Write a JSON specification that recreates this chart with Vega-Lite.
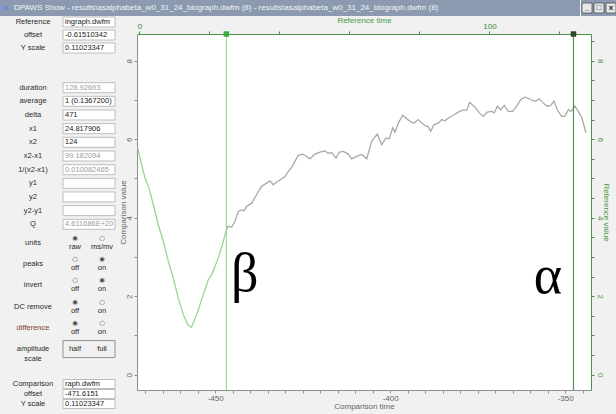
{
  "$schema": "https://vega.github.io/schema/vega-lite/v6.json",
  "description": "DPAWS Show: comparison and reference waveform with cursors x1 and x2, next to the measurement panel.",
  "background": "#f1f1f1",
  "padding": 0,
  "config": {
    "font": "Liberation Sans",
    "view": {"stroke": null},
    "title": {"fontWeight": "normal"},
    "axis": {
      "labelFont": "Liberation Sans",
      "titleFont": "Liberation Sans",
      "labelFontSize": 8,
      "titleFontSize": 8,
      "titleFontWeight": "normal",
      "grid": false,
      "tickSize": 3,
      "labelPadding": 1,
      "labelFlush": false,
      "labelOverlap": false,
      "domainWidth": 1,
      "tickWidth": 1
    },
    "text": {"font": "Liberation Sans", "fontSize": 7.5, "color": "#2a2a2a"}
  },
  "datasets": {
    "window_icon": [{"icon": "■"}],
    "window_buttons": [
      {"button": "minimize", "glyph": "_"},
      {"button": "maximize", "glyph": "□"},
      {"button": "close", "glyph": "x"}
    ],
    "reference_form": [
      {"field": "Reference", "value": "ingraph.dwfm", "enabled": true},
      {"field": "offset", "value": "-0.61510342", "enabled": true},
      {"field": "Y scale", "value": "0.11023347", "enabled": true}
    ],
    "measure_form": [
      {"field": "duration", "value": "128.92693", "enabled": false},
      {"field": "average", "value": "1 (0.1367200)", "enabled": true},
      {"field": "delta", "value": "471", "enabled": true},
      {"field": "x1", "value": "24.817906", "enabled": true},
      {"field": "x2", "value": "124", "enabled": true},
      {"field": "x2-x1", "value": "99.182094", "enabled": false},
      {"field": "1/(x2-x1)", "value": "0.010082465", "enabled": false},
      {"field": "y1", "value": "", "enabled": true},
      {"field": "y2", "value": "", "enabled": true},
      {"field": "y2-y1", "value": "", "enabled": true},
      {"field": "Q", "value": "4.611686E+20", "enabled": false}
    ],
    "option_form": [
      {"field": "units", "kind": "radio", "opt1": "raw", "opt2": "ms/mv", "selected": 1},
      {"field": "peaks", "kind": "radio", "opt1": "off", "opt2": "on", "selected": 2},
      {"field": "invert", "kind": "radio", "opt1": "off", "opt2": "on", "selected": 2},
      {"field": "DC remove", "kind": "radio", "opt1": "off", "opt2": "on", "selected": 1},
      {"field": "difference", "kind": "radio", "opt1": "off", "opt2": "on", "selected": 1},
      {"field": "amplitude\nscale", "kind": "button", "opt1": "half", "opt2": "full", "selected": 0}
    ],
    "comparison_form": [
      {"field": "Comparison", "value": "raph.dwfm", "enabled": true},
      {"field": "offset", "value": "-471.6151", "enabled": true},
      {"field": "Y scale", "value": "0.11023347", "enabled": true}
    ],
    "cursors": [
      {"cursor": "x1", "ref_time": 24.817906, "comp_time": -446.797194},
      {"cursor": "x2", "ref_time": 124, "comp_time": -347.6151}
    ],
    "annotations": [
      {"symbol": "β", "ref_time": 30.1, "value": 2.13},
      {"symbol": "α", "ref_time": 116.7, "value": 2.08}
    ],
    "waveform": [
      {"trace": "before x1", "ref_time": -0.5, "value": 5.79},
      {"trace": "before x1", "ref_time": 0.14, "value": 5.52},
      {"trace": "before x1", "ref_time": 1.57, "value": 5.01},
      {"trace": "before x1", "ref_time": 2.71, "value": 4.76},
      {"trace": "before x1", "ref_time": 3.94, "value": 4.33},
      {"trace": "before x1", "ref_time": 5.37, "value": 3.82},
      {"trace": "before x1", "ref_time": 6.8, "value": 3.4},
      {"trace": "before x1", "ref_time": 8.23, "value": 2.89},
      {"trace": "before x1", "ref_time": 9.66, "value": 2.46},
      {"trace": "before x1", "ref_time": 11.09, "value": 1.95},
      {"trace": "before x1", "ref_time": 12.51, "value": 1.53},
      {"trace": "before x1", "ref_time": 13.77, "value": 1.27},
      {"trace": "before x1", "ref_time": 14.86, "value": 1.21},
      {"trace": "before x1", "ref_time": 16.34, "value": 1.53},
      {"trace": "before x1", "ref_time": 18.23, "value": 2.04},
      {"trace": "before x1", "ref_time": 19.66, "value": 2.42},
      {"trace": "before x1", "ref_time": 20.63, "value": 2.55},
      {"trace": "before x1", "ref_time": 22.51, "value": 2.97},
      {"trace": "before x1", "ref_time": 23.66, "value": 3.31},
      {"trace": "before x1", "ref_time": 24.8, "value": 3.68},
      {"trace": "after x1", "ref_time": 24.8, "value": 3.68},
      {"trace": "after x1", "ref_time": 25.29, "value": 3.78},
      {"trace": "after x1", "ref_time": 26.34, "value": 3.76},
      {"trace": "after x1", "ref_time": 27.29, "value": 3.91},
      {"trace": "after x1", "ref_time": 28.23, "value": 4.16},
      {"trace": "after x1", "ref_time": 29.2, "value": 4.2},
      {"trace": "after x1", "ref_time": 29.86, "value": 4.18},
      {"trace": "after x1", "ref_time": 30.63, "value": 4.29},
      {"trace": "after x1", "ref_time": 32.06, "value": 4.37},
      {"trace": "after x1", "ref_time": 33.49, "value": 4.59},
      {"trace": "after x1", "ref_time": 34.91, "value": 4.8},
      {"trace": "after x1", "ref_time": 36.34, "value": 4.88},
      {"trace": "after x1", "ref_time": 37.29, "value": 4.94},
      {"trace": "after x1", "ref_time": 38.23, "value": 4.84},
      {"trace": "after x1", "ref_time": 39.2, "value": 4.91},
      {"trace": "after x1", "ref_time": 40.63, "value": 4.99},
      {"trace": "after x1", "ref_time": 41.57, "value": 5.05},
      {"trace": "after x1", "ref_time": 42.51, "value": 5.18},
      {"trace": "after x1", "ref_time": 43.49, "value": 5.28},
      {"trace": "after x1", "ref_time": 44.43, "value": 5.44},
      {"trace": "after x1", "ref_time": 45.37, "value": 5.59},
      {"trace": "after x1", "ref_time": 46.63, "value": 5.62},
      {"trace": "after x1", "ref_time": 47.77, "value": 5.56},
      {"trace": "after x1", "ref_time": 48.71, "value": 5.5},
      {"trace": "after x1", "ref_time": 50.14, "value": 5.62},
      {"trace": "after x1", "ref_time": 51.57, "value": 5.67},
      {"trace": "after x1", "ref_time": 53.0, "value": 5.7},
      {"trace": "after x1", "ref_time": 53.94, "value": 5.64},
      {"trace": "after x1", "ref_time": 54.91, "value": 5.66},
      {"trace": "after x1", "ref_time": 56.14, "value": 5.52},
      {"trace": "after x1", "ref_time": 57.09, "value": 5.67},
      {"trace": "after x1", "ref_time": 58.23, "value": 5.69},
      {"trace": "after x1", "ref_time": 59.66, "value": 5.62},
      {"trace": "after x1", "ref_time": 60.63, "value": 5.5},
      {"trace": "after x1", "ref_time": 62.06, "value": 5.56},
      {"trace": "after x1", "ref_time": 63.49, "value": 5.61},
      {"trace": "after x1", "ref_time": 64.91, "value": 5.5},
      {"trace": "after x1", "ref_time": 66.34, "value": 5.95},
      {"trace": "after x1", "ref_time": 67.94, "value": 6.13},
      {"trace": "after x1", "ref_time": 69.2, "value": 5.86},
      {"trace": "after x1", "ref_time": 70.43, "value": 6.03},
      {"trace": "after x1", "ref_time": 71.37, "value": 6.01},
      {"trace": "after x1", "ref_time": 72.34, "value": 6.29},
      {"trace": "after x1", "ref_time": 73.0, "value": 6.18},
      {"trace": "after x1", "ref_time": 73.94, "value": 6.41},
      {"trace": "after x1", "ref_time": 75.2, "value": 6.61},
      {"trace": "after x1", "ref_time": 76.34, "value": 6.52},
      {"trace": "after x1", "ref_time": 77.77, "value": 6.43},
      {"trace": "after x1", "ref_time": 78.43, "value": 6.41},
      {"trace": "after x1", "ref_time": 79.66, "value": 6.5},
      {"trace": "after x1", "ref_time": 80.63, "value": 6.41},
      {"trace": "after x1", "ref_time": 81.86, "value": 6.33},
      {"trace": "after x1", "ref_time": 82.51, "value": 6.32},
      {"trace": "after x1", "ref_time": 83.2, "value": 6.2},
      {"trace": "after x1", "ref_time": 84.14, "value": 6.37},
      {"trace": "after x1", "ref_time": 85.37, "value": 6.41},
      {"trace": "after x1", "ref_time": 86.34, "value": 6.5},
      {"trace": "after x1", "ref_time": 87.29, "value": 6.47},
      {"trace": "after x1", "ref_time": 88.51, "value": 6.56},
      {"trace": "after x1", "ref_time": 89.66, "value": 6.61},
      {"trace": "after x1", "ref_time": 91.09, "value": 6.69},
      {"trace": "after x1", "ref_time": 92.34, "value": 6.74},
      {"trace": "after x1", "ref_time": 93.49, "value": 6.74},
      {"trace": "after x1", "ref_time": 94.34, "value": 6.94},
      {"trace": "after x1", "ref_time": 95.86, "value": 6.81},
      {"trace": "after x1", "ref_time": 97.09, "value": 6.67},
      {"trace": "after x1", "ref_time": 98.23, "value": 6.58},
      {"trace": "after x1", "ref_time": 99.37, "value": 6.69},
      {"trace": "after x1", "ref_time": 100.63, "value": 6.71},
      {"trace": "after x1", "ref_time": 101.37, "value": 6.67},
      {"trace": "after x1", "ref_time": 102.23, "value": 6.84},
      {"trace": "after x1", "ref_time": 103.2, "value": 6.75},
      {"trace": "after x1", "ref_time": 104.23, "value": 6.86},
      {"trace": "after x1", "ref_time": 105.37, "value": 6.71},
      {"trace": "after x1", "ref_time": 106.63, "value": 6.71},
      {"trace": "after x1", "ref_time": 107.77, "value": 6.84},
      {"trace": "after x1", "ref_time": 108.91, "value": 7.01},
      {"trace": "after x1", "ref_time": 110.14, "value": 7.07},
      {"trace": "after x1", "ref_time": 111.37, "value": 7.03},
      {"trace": "after x1", "ref_time": 112.34, "value": 6.98},
      {"trace": "after x1", "ref_time": 113.29, "value": 6.97},
      {"trace": "after x1", "ref_time": 114.23, "value": 7.03},
      {"trace": "after x1", "ref_time": 115.37, "value": 6.92},
      {"trace": "after x1", "ref_time": 116.51, "value": 6.84},
      {"trace": "after x1", "ref_time": 117.49, "value": 6.86},
      {"trace": "after x1", "ref_time": 118.43, "value": 6.97},
      {"trace": "after x1", "ref_time": 119.37, "value": 6.75},
      {"trace": "after x1", "ref_time": 120.63, "value": 6.58},
      {"trace": "after x1", "ref_time": 121.57, "value": 6.58},
      {"trace": "after x1", "ref_time": 122.51, "value": 6.75},
      {"trace": "after x1", "ref_time": 123.29, "value": 6.71},
      {"trace": "after x1", "ref_time": 124.43, "value": 6.84},
      {"trace": "after x1", "ref_time": 125.37, "value": 6.71},
      {"trace": "after x1", "ref_time": 126.34, "value": 6.56},
      {"trace": "after x1", "ref_time": 127.57, "value": 6.16}
    ]
  },
  "spacing": 0,
  "vconcat": [
    {
      "spacing": 0,
      "hconcat": [
        {
          "width": 580,
          "height": 16,
          "view": {"fill": "#8b9ab0"},
          "title": {
            "text": "DPAWS Show - results\\asalphabeta_w0_31_24_biograph.dwfm (8) - results\\asalphabeta_w0_31_24_biograph.dwfm (8)",
            "anchor": "start",
            "offset": -12,
            "dx": 14,
            "fontSize": 8,
            "color": "#f2f4f8",
            "font": "Liberation Sans"
          },
          "data": {"name": "window_icon"},
          "mark": {"type": "text", "align": "left", "dx": 3, "fontSize": 8, "color": "#5b8fe0"},
          "encoding": {
            "x": {"field": "icon", "type": "nominal", "axis": null, "scale": {"type": "point", "padding": 0, "align": 0}},
            "text": {"field": "icon", "type": "nominal"}
          }
        },
        {
          "width": 36,
          "height": 16,
          "view": {"fill": "#8b9ab0"},
          "data": {"name": "window_buttons"},
          "encoding": {
            "x": {"field": "button", "type": "nominal", "sort": null, "axis": null,
                  "scale": {"type": "point", "padding": 0.5}}
          },
          "layer": [
            {"mark": {"type": "point", "shape": "square", "size": 100, "filled": true, "fill": "#e4e6ea", "stroke": "#505050", "strokeWidth": 0.8, "opacity": 1}},
            {"mark": {"type": "text", "fontSize": 8, "fontWeight": "bold", "color": "#1e1e1e"},
             "encoding": {"text": {"field": "glyph", "type": "nominal"}}}
          ]
        }
      ]
    },
    {
      "spacing": 3,
      "hconcat": [
        {
          "spacing": 0,
          "bounds": "flush",
          "vconcat": [
            {
              "width": 116,
              "height": 44,
              "data": {"name": "reference_form"},
              "encoding": {
                "y": {"field": "field", "type": "nominal", "sort": null, "axis": null,
                      "scale": {"paddingInner": 0.23, "paddingOuter": 0.307, "align": 0}}
              },
              "layer": [
                {"mark": {"type": "rect", "fill": "white", "stroke": "#a5a5a5", "strokeWidth": 0.7, "yOffset": -17},
                 "encoding": {"x": {"datum": "value", "type": "nominal", "axis": null,
                                    "scale": {"domain": ["label", "value"], "paddingInner": 0.0714, "paddingOuter": 0.0714, "align": 0.875}}}},
                {"mark": {"type": "text", "align": "center", "yOffset": -17},
                 "encoding": {"x": {"datum": "label", "type": "nominal", "axis": null,
                                    "scale": {"domain": ["label", "value"], "paddingInner": 0.0714, "paddingOuter": 0.0714, "align": 0.875}},
                              "text": {"field": "field", "type": "nominal"}}},
                {"mark": {"type": "text", "align": "left", "dx": -24, "yOffset": -17},
                 "encoding": {"x": {"datum": "value", "type": "nominal", "axis": null,
                                    "scale": {"domain": ["label", "value"], "paddingInner": 0.0714, "paddingOuter": 0.0714, "align": 0.875}},
                              "text": {"field": "value", "type": "nominal"},
                              "color": {"condition": {"test": "datum.enabled === false", "value": "#9b9b9b"}, "value": "#1a1a1a"}}}
              ]
            },
            {
              "width": 116,
              "height": 172,
              "data": {"name": "measure_form"},
              "encoding": {
                "y": {"field": "field", "type": "nominal", "sort": null, "axis": null,
                      "scale": {"paddingInner": 0.27, "paddingOuter": 0.93, "align": 0.854}}
              },
              "layer": [
                {"mark": {"type": "rect", "fill": "white", "stroke": "#a5a5a5", "strokeWidth": 0.7, "yOffset": -17},
                 "encoding": {"x": {"datum": "value", "type": "nominal", "axis": null,
                                    "scale": {"domain": ["label", "value"], "paddingInner": 0.0714, "paddingOuter": 0.0714, "align": 0.875}}}},
                {"mark": {"type": "text", "align": "center", "yOffset": -17},
                 "encoding": {"x": {"datum": "label", "type": "nominal", "axis": null,
                                    "scale": {"domain": ["label", "value"], "paddingInner": 0.0714, "paddingOuter": 0.0714, "align": 0.875}},
                              "text": {"field": "field", "type": "nominal"}}},
                {"mark": {"type": "text", "align": "left", "dx": -24, "yOffset": -17},
                 "encoding": {"x": {"datum": "value", "type": "nominal", "axis": null,
                                    "scale": {"domain": ["label", "value"], "paddingInner": 0.0714, "paddingOuter": 0.0714, "align": 0.875}},
                              "text": {"field": "value", "type": "nominal"},
                              "color": {"condition": {"test": "datum.enabled === false", "value": "#9b9b9b"}, "value": "#1a1a1a"}}}
              ]
            },
            {
              "width": 116,
              "height": 140,
              "data": {"name": "option_form"},
              "encoding": {
                "y": {"field": "field", "type": "nominal", "sort": null, "axis": null,
                      "scale": {"paddingInner": 0.2, "paddingOuter": 0.39, "align": 0.072}}
              },
              "layer": [
                {"mark": {"type": "text", "align": "center", "lineBreak": "\n", "yOffset": -17},
                 "encoding": {"x": {"datum": "label", "type": "nominal", "axis": null,
                                    "scale": {"domain": ["label", "value"], "paddingInner": 0.0714, "paddingOuter": 0.0714, "align": 0.875}},
                              "text": {"field": "field", "type": "nominal"},
                              "color": {"condition": {"test": "datum.field === 'difference'", "value": "#7d3b34"}, "value": "#2a2a2a"}}},
                {"transform": [{"filter": "datum.kind === 'button'"}],
                 "mark": {"type": "rect", "fill": "#f0f0f0", "stroke": "#7a7a7a", "strokeWidth": 0.8, "yOffset": -17},
                 "encoding": {"x": {"datum": "value", "type": "nominal", "axis": null,
                                    "scale": {"domain": ["label", "value"], "paddingInner": 0.0714, "paddingOuter": 0.0714, "align": 0.875}}}},
                {"transform": [{"filter": "datum.kind === 'radio'"}],
                 "mark": {"type": "text", "font": "DejaVu Sans", "fontSize": 6.5, "dx": -14, "dy": -5, "yOffset": -17, "color": "#444"},
                 "encoding": {"x": {"datum": "value", "type": "nominal", "axis": null,
                                    "scale": {"domain": ["label", "value"], "paddingInner": 0.0714, "paddingOuter": 0.0714, "align": 0.875}},
                              "text": {"condition": {"test": "datum.selected === 1", "value": "◉"}, "value": "○"}}},
                {"transform": [{"filter": "datum.kind === 'radio'"}],
                 "mark": {"type": "text", "font": "DejaVu Sans", "fontSize": 6.5, "dx": 13, "dy": -5, "yOffset": -17, "color": "#444"},
                 "encoding": {"x": {"datum": "value", "type": "nominal", "axis": null,
                                    "scale": {"domain": ["label", "value"], "paddingInner": 0.0714, "paddingOuter": 0.0714, "align": 0.875}},
                              "text": {"condition": {"test": "datum.selected === 2", "value": "◉"}, "value": "○"}}},
                {"transform": [{"filter": "datum.kind === 'radio'"}],
                 "mark": {"type": "text", "dx": -14, "dy": 4, "yOffset": -17},
                 "encoding": {"x": {"datum": "value", "type": "nominal", "axis": null,
                                    "scale": {"domain": ["label", "value"], "paddingInner": 0.0714, "paddingOuter": 0.0714, "align": 0.875}},
                              "text": {"field": "opt1", "type": "nominal"}}},
                {"transform": [{"filter": "datum.kind === 'radio'"}],
                 "mark": {"type": "text", "dx": 13, "dy": 4, "yOffset": -17},
                 "encoding": {"x": {"datum": "value", "type": "nominal", "axis": null,
                                    "scale": {"domain": ["label", "value"], "paddingInner": 0.0714, "paddingOuter": 0.0714, "align": 0.875}},
                              "text": {"field": "opt2", "type": "nominal"}}},
                {"transform": [{"filter": "datum.kind === 'button'"}],
                 "mark": {"type": "text", "dx": -14, "yOffset": -17},
                 "encoding": {"x": {"datum": "value", "type": "nominal", "axis": null,
                                    "scale": {"domain": ["label", "value"], "paddingInner": 0.0714, "paddingOuter": 0.0714, "align": 0.875}},
                              "text": {"field": "opt1", "type": "nominal"}}},
                {"transform": [{"filter": "datum.kind === 'button'"}],
                 "mark": {"type": "text", "dx": 13, "yOffset": -17},
                 "encoding": {"x": {"datum": "value", "type": "nominal", "axis": null,
                                    "scale": {"domain": ["label", "value"], "paddingInner": 0.0714, "paddingOuter": 0.0714, "align": 0.875}},
                              "text": {"field": "opt2", "type": "nominal"}}}
              ]
            },
            {
              "width": 116,
              "height": 42,
              "data": {"name": "comparison_form"},
              "encoding": {
                "y": {"field": "field", "type": "nominal", "sort": null, "axis": null,
                      "scale": {"paddingInner": 0.1, "paddingOuter": 0.65, "align": 0.5}}
              },
              "layer": [
                {"mark": {"type": "rect", "fill": "white", "stroke": "#a5a5a5", "strokeWidth": 0.7, "yOffset": -17},
                 "encoding": {"x": {"datum": "value", "type": "nominal", "axis": null,
                                    "scale": {"domain": ["label", "value"], "paddingInner": 0.0714, "paddingOuter": 0.0714, "align": 0.875}}}},
                {"mark": {"type": "text", "align": "center", "yOffset": -17},
                 "encoding": {"x": {"datum": "label", "type": "nominal", "axis": null,
                                    "scale": {"domain": ["label", "value"], "paddingInner": 0.0714, "paddingOuter": 0.0714, "align": 0.875}},
                              "text": {"field": "field", "type": "nominal"}}},
                {"mark": {"type": "text", "align": "left", "dx": -24, "yOffset": -17},
                 "encoding": {"x": {"datum": "value", "type": "nominal", "axis": null,
                                    "scale": {"domain": ["label", "value"], "paddingInner": 0.0714, "paddingOuter": 0.0714, "align": 0.875}},
                              "text": {"field": "value", "type": "nominal"},
                              "color": {"condition": {"test": "datum.enabled === false", "value": "#9b9b9b"}, "value": "#1a1a1a"}}}
              ]
            }
          ]
        },
        {
          "width": 454,
          "height": 356,
          "view": {"fill": "white"},
          "resolve": {"scale": {"x": "independent", "y": "independent"}},
          "layer": [
            {
              "layer": [
                {
                  "data": {"name": "waveform"},
                  "mark": {"type": "line", "strokeWidth": 1.3},
                  "encoding": {
                    "x": {"field": "ref_time", "type": "quantitative", "title": "Reference time",
                          "scale": {"domain": [-0.714, 129], "nice": false, "zero": false},
                          "axis": {"orient": "top", "title": "Reference time",
                                   "values": [0, 5, 10, 15, 20, 25, 30, 35, 40, 45, 50, 55, 60, 65, 70, 75, 80, 85, 90, 95, 100, 105, 110, 115, 120, 125],
                                   "labelExpr": "datum.value % 50 === 0 ? '' + datum.value : ''",
                                   "domainColor": "#4b8f4b", "tickColor": "#4b8f4b", "labelColor": "#3f8a3f", "titleColor": "#3f9a3f",
                                   "titlePadding": -2}},
                    "y": {"field": "value", "type": "quantitative", "title": "Comparison value",
                          "scale": {"domain": [-0.39, 8.68], "nice": false, "zero": false},
                          "axis": {"orient": "left", "title": "Comparison value",
                                   "values": [0, 0.5, 1, 1.5, 2, 2.5, 3, 3.5, 4, 4.5, 5, 5.5, 6, 6.5, 7, 7.5, 8, 8.5],
                                   "labelExpr": "datum.value % 2 === 0 ? '' + datum.value : ''",
                                   "labelAngle": -90,
                                   "domainColor": "#8e8e8e", "tickColor": "#8e8e8e", "labelColor": "#666666", "titleColor": "#666666",
                                   "titlePadding": -2}},
                    "color": {"field": "trace", "type": "nominal",
                              "scale": {"domain": ["before x1", "after x1"], "range": ["#9dd396", "#a4aca0"]},
                              "legend": null}
                  }
                },
                {
                  "data": {"name": "annotations"},
                  "mark": {"type": "text", "font": "Liberation Serif", "fontSize": 54, "baseline": "alphabetic", "align": "center", "color": "#000000"},
                  "encoding": {
                    "x": {"field": "ref_time", "type": "quantitative", "title": "Reference time",
                          "scale": {"domain": [-0.714, 129], "nice": false, "zero": false}},
                    "y": {"field": "value", "type": "quantitative", "title": "Comparison value",
                          "scale": {"domain": [-0.39, 8.68], "nice": false, "zero": false}},
                    "text": {"field": "symbol", "type": "nominal"}
                  }
                }
              ]
            },
            {
              "data": {"name": "cursors"},
              "mark": {"type": "rule", "strokeWidth": 1.2},
              "encoding": {
                "x": {"field": "comp_time", "type": "quantitative", "title": "Comparison time",
                      "scale": {"domain": [-472.329, -342.615], "nice": false, "zero": false},
                      "axis": {"orient": "bottom", "title": "Comparison time",
                               "values": [-470, -465, -460, -455, -450, -445, -440, -435, -430, -425, -420, -415, -410, -405, -400, -395, -390, -385, -380, -375, -370, -365, -360, -355, -350, -345],
                               "labelExpr": "datum.value % 50 === 0 ? '-' + abs(datum.value) : ''",
                               "domainColor": "#8e8e8e", "tickColor": "#8e8e8e", "labelColor": "#666666", "titleColor": "#666666",
                               "titlePadding": 0}},
                "color": {"condition": {"test": "datum.cursor === 'x1'", "value": "#a3d99c"}, "value": "#5e8a5e"}
              }
            },
            {
              "data": {"name": "cursors"},
              "mark": {"type": "point", "shape": "square", "filled": true, "size": 30, "opacity": 1},
              "encoding": {
                "x": {"field": "ref_time", "type": "quantitative",
                      "scale": {"domain": [-0.714, 129], "nice": false, "zero": false}, "axis": null},
                "y": {"datum": 8.68, "type": "quantitative",
                      "scale": {"domain": [-0.39, 8.68], "nice": false, "zero": false},
                      "axis": {"orient": "right", "title": "Reference value",
                               "values": [0, 0.5, 1, 1.5, 2, 2.5, 3, 3.5, 4, 4.5, 5, 5.5, 6, 6.5, 7, 7.5, 8, 8.5],
                               "labelExpr": "datum.value % 2 === 0 ? '' + datum.value : ''",
                               "labelAngle": 90,
                               "domainColor": "#4b8f4b", "tickColor": "#4b8f4b", "labelColor": "#4f8f4f", "titleColor": "#3f9a3f",
                               "titlePadding": -2}},
                "color": {"condition": {"test": "datum.cursor === 'x1'", "value": "#3fa83f"}, "value": "#2c4a2c"}
              }
            }
          ]
        }
      ]
    }
  ]
}
